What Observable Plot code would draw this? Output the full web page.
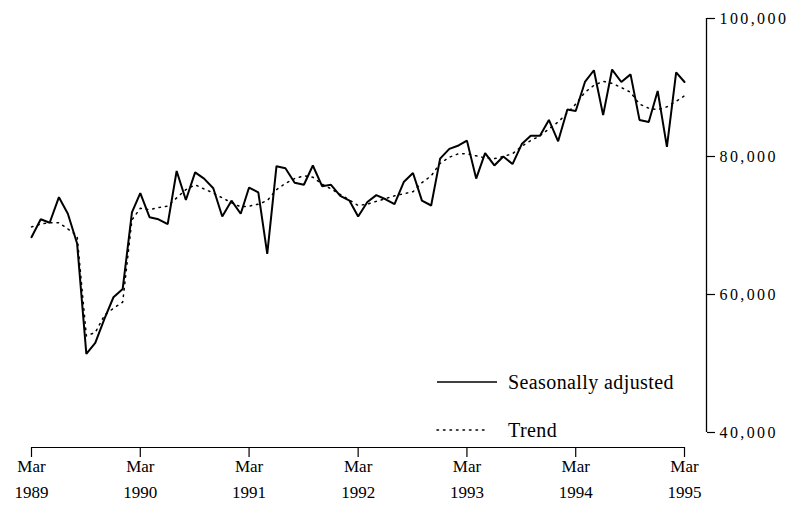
<!DOCTYPE html>
<html>
<head>
<meta charset="utf-8">
<script src="https://cdn.jsdelivr.net/npm/d3@7"></script>
<script src="https://cdn.jsdelivr.net/npm/@observablehq/plot@0.6"></script>
<style>
  html, body { margin: 0; padding: 0; background: #fff; }
  #wrap { position: relative; width: 795px; height: 513px; font-family: "Liberation Serif", "DejaVu Serif", serif; }
  .leg { position: absolute; left: 0; top: 0; width: 795px; height: 513px; pointer-events: none; }
  .yax text { letter-spacing: 2.4px; }
</style>
</head>
<body>
<div id="wrap"></div>
<script>
// Monthly series, March 1989 to March 1995
const seasonallyAdjusted = [
  68300, 70900, 70400, 74100, 71700, 67400, 51400, 53000, 56500, 59600,
  60800, 71900, 74700, 71200, 70900, 70200, 77900, 73700, 77700, 76800, 75400, 71300,
  73600, 71700, 75500, 74800, 65900, 78600, 78300, 76200, 75900, 78700, 75700, 75900,
  74300, 73600, 71300, 73400, 74400, 73800, 73100, 76300, 77600, 73600, 72900, 79700,
  81100, 81600, 82300, 76800, 80500, 78700, 80000, 78900, 81800, 83000, 83000, 85300,
  82200, 86800, 86600, 90800, 92500, 86000, 92600, 90800, 91900, 85300, 85000, 89500,
  81400, 92200, 90800
];
const trend = [
  69800, 70200, 70400, 70400, 69500, 68500, 54000, 54500, 57000, 58000,
  58900, 70800, 72500, 72300, 72600, 72800, 74000, 75200, 75900, 75300, 74700, 74000,
  73300, 72700, 72800, 73100, 73600, 75200, 76100, 76800, 77200, 77000, 76000, 75300,
  74500, 73700, 72900, 73100, 73500, 73900, 74300, 74600, 74900, 76200, 77200, 79000,
  79900, 80400, 80400, 80100, 79800, 79700, 80000, 80400, 81500, 82300, 83000, 84000,
  85000, 86300, 87600, 89300, 90300, 90900, 90600, 90000, 89300, 87600, 87000, 86800,
  87200, 88000, 88800
];
const tickYears = [1989, 1990, 1991, 1992, 1993, 1994, 1995];
const tickMonthLabel = "Mar";
const yTicks = [40000, 60000, 80000, 100000];
const legendLabels = ["Seasonally adjusted", "Trend"];

const start = new Date(Date.UTC(1989, 2, 1));
const end = new Date(Date.UTC(1995, 2, 1));
const months = d3.utcMonth.range(start, d3.utcMonth.offset(end, 1));
const saData = months.map((d, i) => ({date: d, value: seasonallyAdjusted[i]}));
const trData = months.map((d, i) => ({date: d, value: trend[i]}));
const tickDates = tickYears.map(y => new Date(Date.UTC(y, 2, 1)));
const fmt = d3.format(",");

const chart = Plot.plot({
  width: 795,
  height: 513,
  marginLeft: 31,
  marginRight: 111,
  marginTop: 18,
  marginBottom: 81,
  style: {fontFamily: "Liberation Serif, serif", fontSize: "16px", background: "#fff", color: "#000"},
  x: {type: "utc", domain: [start, end], axis: null},
  y: {domain: [40000, 100000], axis: null},
  marks: [
    // y axis on right
    Plot.ruleX([end], {y1: 40000, y2: 100000, dx: 22, stroke: "#000", strokeWidth: 1.3}),
    Plot.axisY({anchor: "right", ticks: yTicks, tickSize: 8, dx: 22, tickPadding: 5, label: null,
      className: "yax", tickFormat: fmt, fontSize: 16, stroke: "#000", strokeWidth: 1.2, fill: "#000"}),
    // x axis below
    Plot.ruleY([40000], {x1: start, x2: end, dy: 15, stroke: "#000", strokeWidth: 1.2}),
    Plot.axisX({ticks: tickDates, tickSize: 10, dy: 15, tickFormat: () => "", label: null, stroke: "#000", strokeWidth: 1.2}),
    Plot.text(tickDates, {x: d => d, y: 40000, dy: 34, text: () => tickMonthLabel, fontSize: 17, fill: "#000"}),
    Plot.text(tickDates, {x: d => d, y: 40000, dy: 60, text: d => String(d.getUTCFullYear()), fontSize: 17, fill: "#000"}),
    // series
    Plot.line(trData, {x: "date", y: "value", stroke: "#000", strokeWidth: 1.5, strokeDasharray: "1.5 5", strokeLinecap: "round"}),
    Plot.line(saData, {x: "date", y: "value", stroke: "#000", strokeWidth: 2, strokeLinejoin: "miter"})
  ]
});
const wrap = document.getElementById("wrap");
wrap.appendChild(chart);

// legend overlay
const ns = "http://www.w3.org/2000/svg";
const leg = document.createElementNS(ns, "svg");
leg.setAttribute("class", "leg");
leg.setAttribute("width", 795);
leg.setAttribute("height", 513);
const items = [
  {label: legendLabels[0], dash: null, y: 382, x2: 497},
  {label: legendLabels[1], dash: "1.5 5", y: 430, x2: 485}
];
items.forEach(it => {
  const l = document.createElementNS(ns, "line");
  l.setAttribute("x1", 437); l.setAttribute("x2", it.x2);
  l.setAttribute("y1", it.y); l.setAttribute("y2", it.y);
  l.setAttribute("stroke", "#000");
  l.setAttribute("stroke-width", it.dash ? 1.5 : 1.6);
  if (it.dash) { l.setAttribute("stroke-dasharray", it.dash); l.setAttribute("stroke-linecap", "round"); }
  leg.appendChild(l);
  const t = document.createElementNS(ns, "text");
  t.setAttribute("x", 508); t.setAttribute("y", it.y);
  t.setAttribute("dy", "0.35em");
  t.setAttribute("font-size", 20);
  t.setAttribute("letter-spacing", 0.4);
  t.setAttribute("font-family", "Liberation Serif, serif");
  t.textContent = it.label;
  leg.appendChild(t);
});
wrap.appendChild(leg);
</script>
</body>
</html>
